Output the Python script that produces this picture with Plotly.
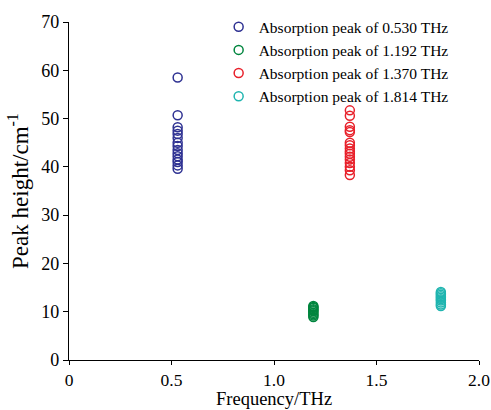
import plotly.graph_objects as go

# Peak heights (cm^-1) measured for each absorption peak
freq_0530 = 0.530
height_0530 = [58.5, 50.7, 48.2, 47.5, 46.8, 46.0, 45.0, 44.3, 43.5, 42.8, 42.2, 41.5, 41.0, 40.3, 39.6]

freq_1192 = 1.192
height_1192 = [11.2, 11.0, 10.8, 10.5, 10.3, 10.1, 9.8, 9.5, 9.2, 8.9]

freq_1370 = 1.370
height_1370 = [51.7, 50.6, 48.3, 47.6, 47.2, 45.0, 44.5, 43.8, 43.2, 42.7, 42.1, 41.5, 40.8, 40.0, 39.3, 38.3]

freq_1814 = 1.814
height_1814 = [14.1, 13.8, 13.5, 13.2, 12.9, 12.6, 12.3, 11.9, 11.5, 11.2]

x_tickvals = [0, 0.5, 1.0, 1.5, 2.0]
x_ticktext = ["0", "0.5", "1.0", "1.5", "2.0"]
y_tickvals = [0, 10, 20, 30, 40, 50, 60, 70]

series = [
    ("Absorption peak of 0.530 THz", freq_0530, height_0530, "#2E3192"),
    ("Absorption peak of 1.192 THz", freq_1192, height_1192, "#00853E"),
    ("Absorption peak of 1.370 THz", freq_1370, height_1370, "#E8202A"),
    ("Absorption peak of 1.814 THz", freq_1814, height_1814, "#20B5B0"),
]

FONT = "Liberation Serif, Times New Roman, serif"

fig = go.Figure()
for i, (name, f, h, color) in enumerate(series):
    fig.add_trace(go.Scatter(
        x=[f] * len(h),
        y=h,
        mode="markers",
        name=name,
        marker=dict(symbol="circle-open", size=9, color=color,
                    line=dict(width=1.5, color=color)),
    ))

fig.update_layout(
    width=491,
    height=410,
    margin=dict(l=69, r=12, t=22, b=50, autoexpand=False),
    paper_bgcolor="white",
    plot_bgcolor="white",
    font=dict(family=FONT, color="black", size=18),
    showlegend=True,
    legend=dict(
        x=0.365, y=1.035, xanchor="left", yanchor="top",
        font=dict(family=FONT, size=15.5, color="black"),
        bgcolor="rgba(0,0,0,0)",
        itemwidth=30,
    ),
    xaxis=dict(
        range=[0, 2.0],
        tickvals=x_tickvals,
        ticktext=x_ticktext,
        showline=True, linecolor="black", linewidth=1.3,
        ticks="outside", ticklen=4, tickwidth=1.3, tickcolor="black",
        showgrid=False, zeroline=False,
        tickfont=dict(size=17.5),
    ),
    yaxis=dict(
        range=[0, 70],
        tickvals=y_tickvals,
        showline=True, linecolor="black", linewidth=1.3,
        ticks="outside", ticklen=5, tickwidth=1.3, tickcolor="black",
        showgrid=False, zeroline=False,
        tickfont=dict(size=18),
        title=dict(text="Peak height/cm<sup>-1</sup>", font=dict(size=23), standoff=6),
    ),
    annotations=[dict(
        text="Frequency/THz",
        xref="paper", yref="paper",
        x=0.5, y=-0.115, xanchor="center", yanchor="middle",
        showarrow=False, borderpad=0,
        font=dict(family=FONT, size=18.5, color="black"),
    )],
)

fig.write_html("out.html")
